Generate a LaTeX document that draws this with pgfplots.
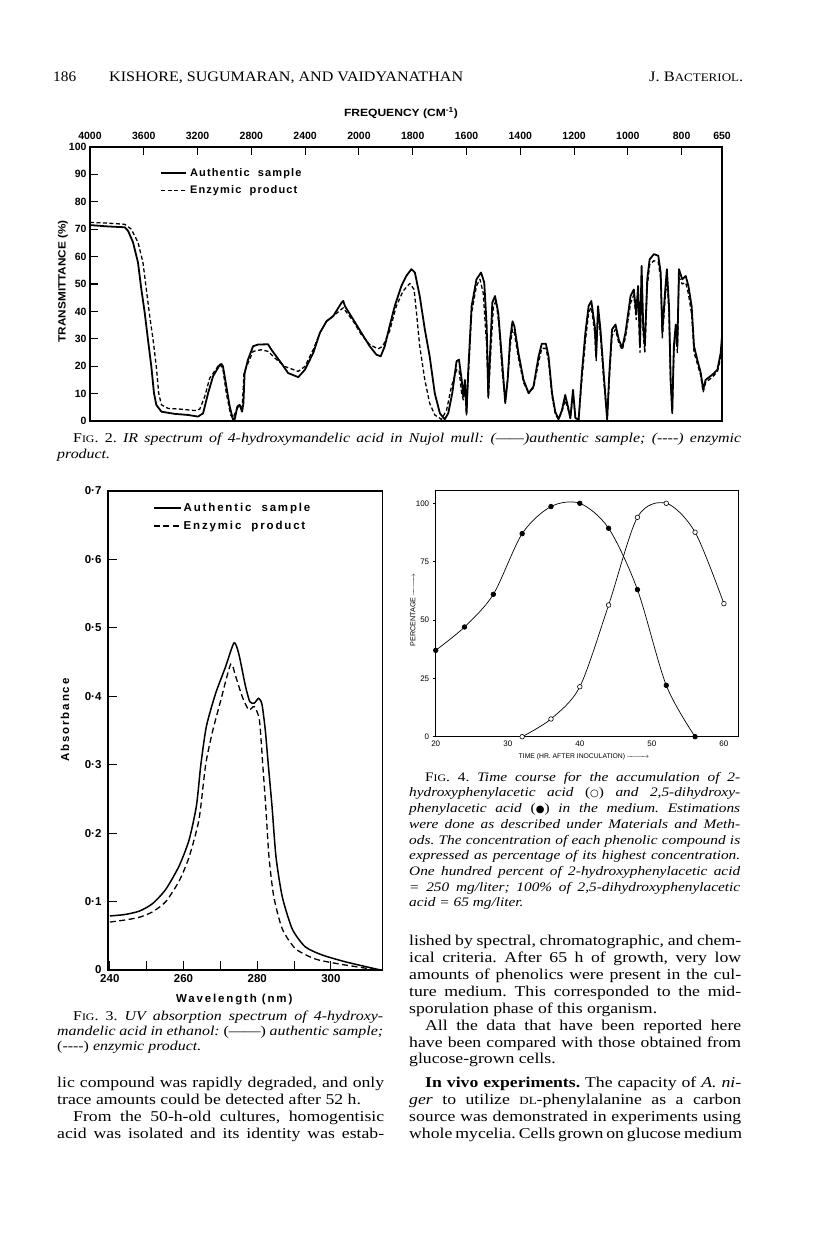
\documentclass[border=0pt]{standalone}
\usepackage{fontspec}
\usepackage{graphicx}
\usepackage{pgfplots}
\pgfplotsset{compat=1.18}
\setmainfont[FakeStretch=1.18]{Liberation Serif}
\newfontfamily\sansf{Liberation Sans}
\newfontfamily\lsfa[LetterSpace=10]{Liberation Sans}
\newfontfamily\lsfb[LetterSpace=16]{Liberation Sans}
\newfontfamily\symf{DejaVu Sans}
\newcommand{\fs}[2]{\fontsize{#1}{#2}\selectfont}
\newcommand{\JL}[4]{\node[anchor=base west,inner sep=0pt] at (#1pt,{1233pt-#2pt}) {\makebox[#3pt][s]{#4}};}
\newcommand{\TL}[3]{\node[anchor=base west,inner sep=0pt] at (#1pt,{1233pt-#2pt}) {#3};}
\newcommand{\FIG}{F{\fs{10}{12}IG}.}
\newcommand{\longarr}{\makebox[23pt]{\rightarrowfill}}
\frenchspacing
\begin{document}
\begin{tikzpicture}
\fill[white] (0pt,0pt) rectangle (816pt,1233pt);
\path[use as bounding box] (0pt,0pt) rectangle (816pt,1233pt);

% ---------- header ----------
\TL{53}{82}{\resizebox{23pt}{\height}{\fs{14.5}{16}186}}
\TL{109}{82}{\resizebox{354pt}{\height}{\fs{14.5}{16}KISHORE, SUGUMARAN, AND VAIDYANATHAN}}
\TL{649}{82}{\resizebox{94pt}{\height}{\fs{14.5}{16}J. B{\fs{11.5}{13}ACTERIOL}.}}

% ---------- Fig. 2 ----------
\node[inner sep=0pt] at (401pt,{1233pt-113pt}) {\resizebox{114pt}{\height}{\sansf\bfseries\fs{10.5}{12}FREQUENCY (CM\textsuperscript{-1})}};
\begin{axis}[
 at={(90pt,812pt)}, anchor=south west, scale only axis,
 width=632pt, height=274pt,
 xmin=4000, xmax=650, ymin=0, ymax=100,
 x coord trafo/.code={\pgfmathparse{#1>1999.5 ? (4000-#1)/400 : 5+(2000-#1)/200}},
 xtick={4000,3600,3200,2800,2400,2000,1800,1600,1400,1200,1000,800,650},
 xticklabels={4000,3600,3200,2800,2400,2000,1800,1600,1400,1200,1000,800,650},
 xtick pos=right, xticklabel pos=right,
 ytick={0,10,20,30,40,50,60,70,80,90,100},
 yticklabels={0,10,20,30,40,50,60,70,80,90,100},
 ytick pos=left,
 tick align=inside, major tick length=8pt,
 tick style={line width=1.1pt, black},
 axis line style={line width=1.5pt},
 ticklabel style={font=\sansf\bfseries\fs{10.5}{12}},
 xticklabel style={yshift=3.5pt},
 ylabel={\resizebox{122pt}{\height}{TRANSMITTANCE (\%)}},
 ylabel style={font=\sansf\bfseries\fs{10.5}{12}, at={(axis description cs:-0.043,0.51)}, anchor=center},
 legend style={at={(axis description cs:0.111,0.934)}, anchor=north west, draw=none, fill=none, inner sep=0pt, row sep=2pt, font=\lsfa\bfseries\fs{11}{13}, nodes={inner sep=3pt}},
 legend cell align=left,
 legend image code/.code={\draw[#1] (0pt,0pt) -- (25pt,0pt);},
]
\addplot[black, line width=1.8pt, line join=round] coordinates {
(4000,71.5) (3866,71.0) (3742,70.7) (3717,69.4) (3680,65.2) (3643,57.8) (3618,48) (3593,39.5) (3569,29.7) (3544,19.9) (3524,10.1) (3507,5.9) (3469,3.4) (3370,2.6) (3271,2.2) (3197,1.6) (3159,2.8) (3122,10.1) (3085,16.3) (3035,20.5) (3022,20.8) (3011,19.9) (2986,12.6) (2961,5.3) (2936,0.4) (2924,0.6) (2904,5.3) (2887,5.9) (2869,3.4) (2859,6.5) (2850,17.5) (2825,22.4) (2787,27.3) (2750,27.9) (2676,28) (2651,26) (2577,21.1) (2527,17.5) (2451,16.0) (2402,18.7) (2340,24.8) (2290,32.2) (2241,36.4) (2191,38.3) (2129,43.2) (2117,43.8) (2104,41.9) (2042,37) (1991,32.2) (1960,27.3) (1935,24.2) (1919,23.6) (1904,27.3) (1886,34.6) (1867,41.9) (1842,49.3) (1824,52.9) (1805,55.4) (1792,54.2) (1774,45.6) (1755,33.4) (1737,23.6) (1718,10.1) (1699,2.8) (1681,0.6) (1668,2.8) (1653,10.1) (1637,21.8) (1628,22.4) (1618,15) (1612,8.9) (1606,15) (1600,2.8) (1594,17.5) (1581,41.9) (1563,51.7) (1546,54.2) (1534,50.5) (1525,34.6) (1519,8.9) (1513,23.6) (1504,43.2) (1494,45.6) (1482,39.5) (1469,23.6) (1456,6.5) (1447,15) (1438,29.7) (1429,36.4) (1422,34.6) (1407,24.8) (1388,15) (1369,10.1) (1351,12.6) (1332,23.6) (1320,28.2) (1305,28.2) (1295,23.6) (1282,10.1) (1270,3.4) (1258,0.6) (1245,4) (1233,9.5) (1223,5.3) (1214,1) (1204,11.4) (1195,1) (1183,0.6) (1171,17.5) (1158,32.2) (1146,41.9) (1136,43.8) (1123,34.6) (1118,23.6) (1111,41.9) (1102,33.4) (1090,17.5) (1077,0.6) (1069,17.5) (1059,33.4) (1046,35.2) (1034,29.7) (1021,26.7) (1009,32.2) (990,45.6) (978,48) (969,39.5) (962,49.3) (955,27.3) (949,56.6) (943,34.6) (937,27.3) (928,51.7) (919,59) (903,60.9) (887,60.3) (878,54.2) (872,32.2) (862,46.8) (855,55.4) (847,41.9) (841,15) (835,2.8) (829,27.3) (822,35.2) (816,27.3) (810,55.4) (798,51.7) (785,52.9) (775,49.3) (763,41.9) (754,27.3) (742,22.4) (729,17.5) (720,11.4) (711,15) (686,16.9) (667,18.7) (655,24.8) (650,30.9)
};
\addlegendentry{Authentic\ \ sample}
\addplot[black, line width=1.3pt, dash pattern=on 4pt off 2.5pt, line join=round] coordinates {
(4000,72.5) (3866,72.2) (3742,71.8) (3693,70) (3643,65.2) (3606,57.8) (3581,48) (3556,38.3) (3531,29.7) (3507,19.9) (3489,10.1) (3469,5.9) (3420,4.6) (3321,4.3) (3221,3.8) (3184,4.3) (3147,8.9) (3110,15.6) (3035,20.9) (3011,18.7) (2986,10.1) (2954,2.2) (2936,1) (2912,4) (2887,5.9) (2869,4) (2855,17.5) (2825,21.1) (2787,25.4) (2726,26) (2676,25.4) (2626,23) (2552,19.9) (2451,18.1) (2402,19.9) (2340,26) (2290,32.2) (2241,36.4) (2191,38.3) (2117,41.3) (2042,36.4) (1991,31.5) (1960,27.9) (1929,26.3) (1911,27.3) (1886,32.8) (1861,41.9) (1836,47.4) (1811,50.2) (1795,48) (1786,39.5) (1774,27.3) (1755,15) (1737,6.5) (1718,2.2) (1693,0.6) (1674,4) (1656,12.6) (1637,18.7) (1628,18.7) (1618,10.1) (1612,7.7) (1606,13.8) (1600,2.2) (1594,15) (1581,39.5) (1563,49.3) (1550,51.7) (1538,46.8) (1525,27.3) (1519,8.3) (1510,24.8) (1500,41.9) (1490,43.8) (1479,34.6) (1467,17.5) (1456,8) (1447,15) (1438,27) (1429,33.5) (1422,32) (1407,23) (1388,14) (1369,10.5) (1351,12) (1332,21.5) (1320,26.5) (1305,26.5) (1295,22) (1282,9) (1270,2.5) (1258,0.6) (1245,3.5) (1233,7.5) (1223,4.5) (1214,1) (1204,9.5) (1195,1) (1183,0.6) (1171,15) (1158,29) (1146,39.5) (1136,41.5) (1123,32) (1118,22) (1111,39) (1102,31) (1090,15) (1077,0.6) (1069,15) (1059,31) (1046,33.5) (1034,28.5) (1021,26) (1009,30.5) (990,43) (978,46) (969,37) (962,46.5) (955,25) (949,53) (943,32) (937,25) (928,49) (919,57) (903,58.5) (887,58) (878,52) (872,30) (862,44) (855,52.5) (847,39) (841,13) (835,4) (829,25) (822,33) (816,25) (810,52.5) (798,50) (785,50.5) (775,46.5) (763,39) (754,25) (742,21) (729,16.5) (720,10.5) (711,14) (686,16) (667,18) (655,23) (650,29)
};
\addlegendentry{Enzymic\ \ product}
\end{axis}

\JL{73}{443}{668}{\fs{13.5}{15}\FIG{} 2. \textit{IR spectrum of 4-hydroxymandelic acid in Nujol mull: (——)authentic sample; (-{}-{}-{}-) enzymic}}
\TL{57}{459}{\fs{13.5}{15}\textit{product.}}

% ---------- Fig. 3 ----------
\begin{axis}[
 at={(108pt,263pt)}, anchor=south west, scale only axis,
 width=274.5pt, height=479pt,
 xmin=239.5, xmax=314, ymin=0, ymax=0.7,
 xtick={240,250,260,270,280,290,300}, xticklabels={240,,260,,280,,300},
 ytick={0,0.1,0.2,0.3,0.4,0.5,0.6,0.7},
 yticklabels={0,0·1,0·2,0·3,0·4,0·5,0·6,0·7},
 xtick pos=left, ytick pos=left,
 tick align=inside, major tick length=9pt,
 tick style={line width=1.1pt, black},
 axis line style={line width=1.5pt},
 ticklabel style={font=\sansf\bfseries\fs{11.5}{13}},
 yticklabel style={xshift=-3pt},
 xticklabel style={yshift=-1pt},
 xlabel={Wavelength (nm)},
 xlabel style={font=\lsfb\bfseries\fs{11.5}{13}, at={(axis description cs:0.46,-0.061)}, anchor=center},
 ylabel={Absorbance},
 ylabel style={font=\lsfb\bfseries\fs{11.5}{13}, at={(axis description cs:-0.157,0.522)}, anchor=center},
 legend style={at={(axis description cs:0.164,0.979)}, anchor=north west, draw=none, fill=none, inner sep=0pt, row sep=4pt, font=\lsfb\bfseries\fs{11.5}{13}, nodes={inner sep=2pt}},
 legend cell align=left,
 legend image code/.code={\draw[#1] (0pt,0pt) -- (27pt,0pt);},
]
\addplot[black, line width=1.5pt, smooth, tension=0.4] coordinates {
(240,0.079) (244,0.081) (248,0.086) (251.6,0.097) (255.2,0.118) (258.8,0.152) (261.5,0.19) (263.5,0.24) (264.7,0.3) (266.2,0.356) (268.7,0.404) (271.4,0.443) (273.7,0.478) (275,0.462) (276.8,0.415) (278,0.392) (279.2,0.39) (280.4,0.397) (281.3,0.388) (282.2,0.35) (283,0.3) (284,0.24) (285.1,0.165) (286.8,0.107) (289.5,0.06) (293,0.034) (297.6,0.022) (303.9,0.012) (311,0.003) (313.5,0)
};
\addlegendentry{Authentic\ \ sample}
\addplot[black, line width=1.3pt, dash pattern=on 6pt off 3.5pt, smooth, tension=0.4] coordinates {
(240,0.07) (244,0.073) (248,0.077) (251.6,0.085) (255.2,0.1) (258.8,0.13) (261.5,0.165) (264.2,0.22) (266,0.3) (267.8,0.347) (270.1,0.394) (272.8,0.447) (274.1,0.43) (275.9,0.4) (277.7,0.38) (279.2,0.385) (280.6,0.365) (281.5,0.3) (282.3,0.24) (283.2,0.165) (284.5,0.107) (286.8,0.06) (290.4,0.031) (295.8,0.016) (302,0.009) (309,0.003) (313,0)
};
\addlegendentry{Enzymic\ \ product}
\end{axis}

\JL{73}{1020.5}{310}{\fs{13.5}{15}\FIG{} 3. \textit{UV absorption spectrum of 4-hydroxy-}}
\JL{57}{1035.5}{326}{\fs{13.5}{15}\textit{mandelic acid in ethanol: }(——) \textit{authentic sample;}}
\TL{57}{1050.5}{\fs{13.5}{15}(-{}-{}-{}-) \textit{enzymic product.}}

% ---------- Fig. 4 ----------
\begin{axis}[
 at={(435.7pt,496.3pt)}, anchor=south west, scale only axis,
 width=302.6pt, height=246.7pt,
 xmin=20, xmax=62, ymin=0, ymax=105.7,
 xtick={20,30,40,50,60}, xticklabels={20,30,40,50,60},
 ytick={0,25,50,75,100}, yticklabels={0,25,50,75,100},
 xtick pos=left, ytick pos=left,
 tick align=outside, major tick length=3pt,
 xtick style={draw=none},
 ytick style={line width=0.6pt, black},
 axis line style={line width=0.8pt},
 ticklabel style={font=\sansf\fs{8}{9}},
 xticklabel style={yshift=2pt},
 xlabel={TIME (HR. AFTER INOCULATION)\,\longarr},
 xlabel style={font=\sansf\fs{6.8}{8}, at={(axis description cs:0.49,-0.082)}, anchor=center},
 ylabel={PERCENTAGE\,\longarr},
 ylabel style={font=\sansf\fs{7.2}{8}, at={(axis description cs:-0.075,0.514)}, anchor=center},
]
\addplot[black, line width=0.7pt, smooth, mark=*, mark size=2.3pt, mark options={fill=black}] coordinates {
(20,37) (24,47) (28,61) (32,87) (36,98.6) (40,100) (44,89.3) (48,63) (52,22) (56,0)
};
\addplot[black, line width=0.7pt, smooth, mark=*, mark size=2.3pt, mark options={fill=white, line width=0.6pt}] coordinates {
(32,0) (36,7.6) (40,21.4) (44,56.4) (48,94) (52,100) (56,87.6) (60,57)
};
\end{axis}

\JL{425}{781.5}{315}{\fs{13}{15}\FIG{} 4. \textit{Time course for the accumulation of 2-}}
\JL{409}{796.5}{331}{\fs{13}{15}\textit{hydroxyphenylacetic acid} ({\symf\fs{10}{12}○}) \textit{and 2,5-dihydroxy-}}
\JL{409}{812.5}{331}{\fs{13}{15}\textit{phenylacetic acid} ({\symf\fs{10}{12}●}) \textit{in the medium. Estimations}}
\JL{409}{828.5}{331}{\fs{13}{15}\textit{were done as described under Materials and Meth-}}
\JL{409}{844.5}{331}{\fs{13}{15}\textit{ods. The concentration of each phenolic compound is}}
\JL{409}{859.5}{331}{\fs{13}{15}\textit{expressed as percentage of its highest concentration.}}
\JL{409}{875.5}{331}{\fs{13}{15}\textit{One hundred percent of 2-hydroxyphenylacetic acid}}
\JL{409}{891.5}{331}{\fs{13}{15}\textit{= 250 mg/liter; 100\% of 2,5-dihydroxyphenylacetic}}
\TL{409}{906.5}{\fs{13}{15}\textit{acid = 65 mg/liter.}}

% ---------- body text, right column ----------
\JL{409}{945.7}{332}{\fs{15}{17}lished by spectral, chromatographic, and chem-}
\JL{409}{963}{332}{\fs{15}{17}ical criteria. After 65 h of growth, very low}
\JL{409}{980}{332}{\fs{15}{17}amounts of phenolics were present in the cul-}
\JL{409}{996.3}{332}{\fs{15}{17}ture medium. This corresponded to the mid-}
\TL{409}{1013.3}{\fs{15}{17}sporulation phase of this organism.}
\JL{425}{1030.7}{316}{\fs{15}{17}All the data that have been reported here}
\JL{409}{1047.3}{332}{\fs{15}{17}have been compared with those obtained from}
\TL{409}{1064}{\fs{15}{17}glucose-grown cells.}
\JL{425}{1088}{316}{\fs{15}{17}\textbf{In vivo experiments.} The capacity of \textit{A. ni-}}
\JL{409}{1105}{332}{\fs{15}{17}\textit{ger} to utilize {\fs{11}{12}DL}-phenylalanine as a carbon}
\JL{409}{1122}{332}{\fs{15}{17}source was demonstrated in experiments using}
\JL{409}{1139}{332}{\fs{15}{17}whole mycelia. Cells grown on glucose medium}

% ---------- body text, left column ----------
\JL{57}{1088}{327}{\fs{15}{17}lic compound was rapidly degraded, and only}
\TL{57}{1105}{\fs{15}{17}trace amounts could be detected after 52 h.}
\JL{73}{1122}{311}{\fs{15}{17}From the 50-h-old cultures, homogentisic}
\JL{57}{1139}{327}{\fs{15}{17}acid was isolated and its identity was estab-}
\end{tikzpicture}
\end{document}
